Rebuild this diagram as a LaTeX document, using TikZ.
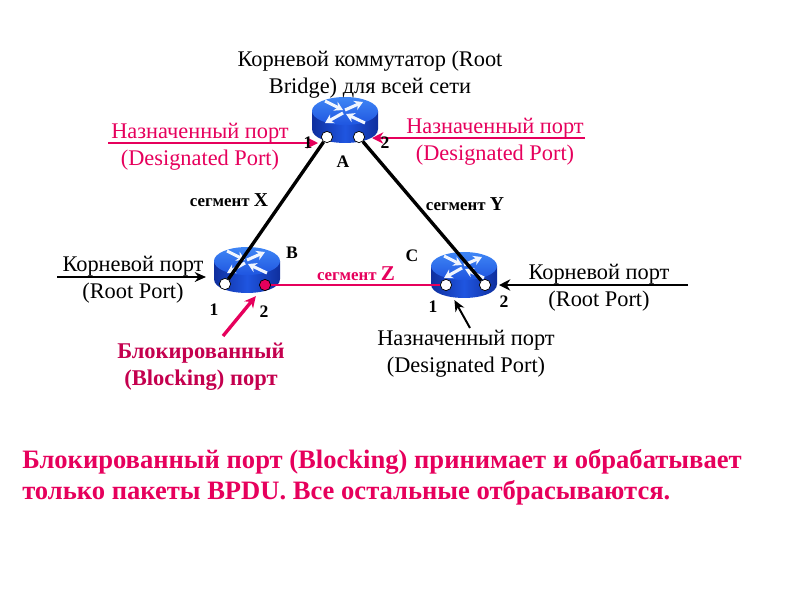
\documentclass[tikz,border=0pt]{standalone}
\usepackage{fontspec}
\setmainfont{Liberation Serif}
\usepackage{tikz}
\usetikzlibrary{arrows.meta}
\definecolor{PortPink}{HTML}{E6005C}
\definecolor{RouterTop}{HTML}{3F86F5}
\definecolor{RouterDeep}{HTML}{0F2F9E}
\definecolor{RouterSide}{HTML}{1F55E0}
\tikzset{
  lbl/.style={font=\fontsize{15.9}{19.2}\selectfont, align=center, inner sep=0pt},
  pinklbl/.style={lbl, text=PortPink},
  tag/.style={font=\fontsize{12.5}{13}\selectfont\bfseries, inner sep=0pt},
  seglbl/.style={font=\fontsize{12}{13}\selectfont\bfseries, inner sep=0pt},
  portdot/.style={circle, draw=black, fill=white, line width=0.5pt, minimum size=8pt, inner sep=0pt},
  pinkline/.style={PortPink, line width=2.1pt},
  blackline/.style={black, line width=2.4pt},
  router/.pic={
    \shade[left color=RouterDeep, right color=RouterDeep, middle color=RouterSide]
      (-33,-9) -- (-33,9) .. controls (-33,27.6) and (33,27.6) .. (33,9) -- (33,-9) -- cycle;
    \shade[top color=RouterTop, bottom color=RouterSide] (0,-9) ellipse [x radius=33, y radius=14];
    \foreach \a/\b/\c/\d in {-20/-19/-2/-10, 0/-10/18/-18, -2/-7/-20/3, 20/3/1/-6}
      \draw[white!92!RouterTop, line width=2.2pt, -{Stealth[length=6pt,width=7pt]}] (\a,\b) -- (\c,\d);
  }
}
\begin{document}
\begin{tikzpicture}[x=0.025cm, y=-0.025cm]
  \useasboundingbox (0,0) rectangle (800,600);

  \pic at (345,120) {router};
  \pic at (247,270) {router};
  \pic at (464,275) {router};

  \node[portdot] (portA1) at (327,137) {};
  \node[portdot] (portA2) at (359,137) {};
  \node[portdot] (portB1) at (225,284) {};
  \node[portdot, fill=PortPink] (portB2) at (265,285) {};
  \node[portdot] (portC1) at (446,285) {};
  \node[portdot] (portC2) at (485,285) {};

  \draw[blackline] (portA1) -- (portB1);
  \draw[blackline] (portA2) -- (portC2);
  \draw[pinkline] (portB2) -- (portC1);

  \node[lbl] (rootTitle) at (370,75) {Корневой коммутатор (Root\\Bridge) для всей сети};
  \node[pinklbl] (desLeft) at (200,147) {Назначенный порт\\(Designated Port)};
  \node[pinklbl] (desRight) at (495,142) {Назначенный порт\\(Designated Port)};
  \node[lbl] (rootLeft) at (133,280) {Корневой порт\\(Root Port)};
  \node[lbl] (rootRight) at (599,288) {Корневой порт\\(Root Port)};
  \node[lbl] (desBottom) at (466,354) {Назначенный порт\\(Designated Port)};
  \node[lbl, text=PortPink!85!black, font=\fontsize{16}{19.2}\selectfont\bfseries] (blockLbl) at (201,367) {Блокированный\\(Blocking) порт};

  \coordinate (desLeftEnd) at (108,143);
  \coordinate (desLeftTip) at (318,143);
  \coordinate (desRightEnd) at (585,138);
  \coordinate (desRightTip) at (372,138);
  \coordinate (rootLeftEnd) at (57,277);
  \coordinate (rootLeftTip) at (206,277);
  \coordinate (rootRightEnd) at (688,285);
  \coordinate (rootRightTip) at (499,285);
  \coordinate (blockEnd) at (223,336);
  \coordinate (desBottomEnd) at (470,328);

  \draw[pinkline, -{Stealth[length=8pt,width=8pt]}] (desLeftEnd) -- (desLeftTip);
  \draw[pinkline, -{Stealth[length=8pt,width=8pt]}] (desRightEnd) -- (desRightTip);
  \draw[black, line width=1.4pt, -{Stealth[length=8pt,width=7pt]}] (rootLeftEnd) -- (rootLeftTip);
  \draw[black, line width=1.8pt, -{Stealth[length=8pt,width=8pt]}] (rootRightEnd) -- (rootRightTip);
  \draw[pinkline, line width=2.4pt, shorten >=6pt, -{Stealth[length=8pt,width=8pt]}] (blockEnd) -- (portB2);
  \draw[black, line width=1.4pt, shorten >=8pt, -{Stealth[length=8pt,width=7pt]}] (desBottomEnd) -- (portC1);

  \node[tag] (numA1) at (308,143) {1};
  \node[tag] (numA2) at (385,143) {2};
  \node[tag] (tagA) at (343,162) {A};
  \node[tag] (tagB) at (292,253) {B};
  \node[tag] (tagC) at (412,256) {C};
  \node[tag] (numB1) at (214,310) {1};
  \node[tag] (numB2) at (264,312) {2};
  \node[tag] (numC1) at (433,307) {1};
  \node[tag] (numC2) at (504,302) {2};

  \node[seglbl] (segX) at (229,200) {сегмент {\fontsize{14}{13}\selectfont X}};
  \node[seglbl] (segY) at (465,204) {сегмент {\fontsize{14}{13}\selectfont Y}};
  \node[seglbl, text=PortPink] (segZ) at (356,274) {сегмент {\fontsize{15}{13}\selectfont Z}};

  \node[anchor=west, align=left, inner sep=0pt, text=PortPink, font=\fontsize{18.9}{22.2}\selectfont\bfseries] (note) at (22,477)
  {Блокированный порт (Blocking) принимает и обрабатывает\\только пакеты BPDU. Все остальные отбрасываются.};
\end{tikzpicture}
\end{document}
